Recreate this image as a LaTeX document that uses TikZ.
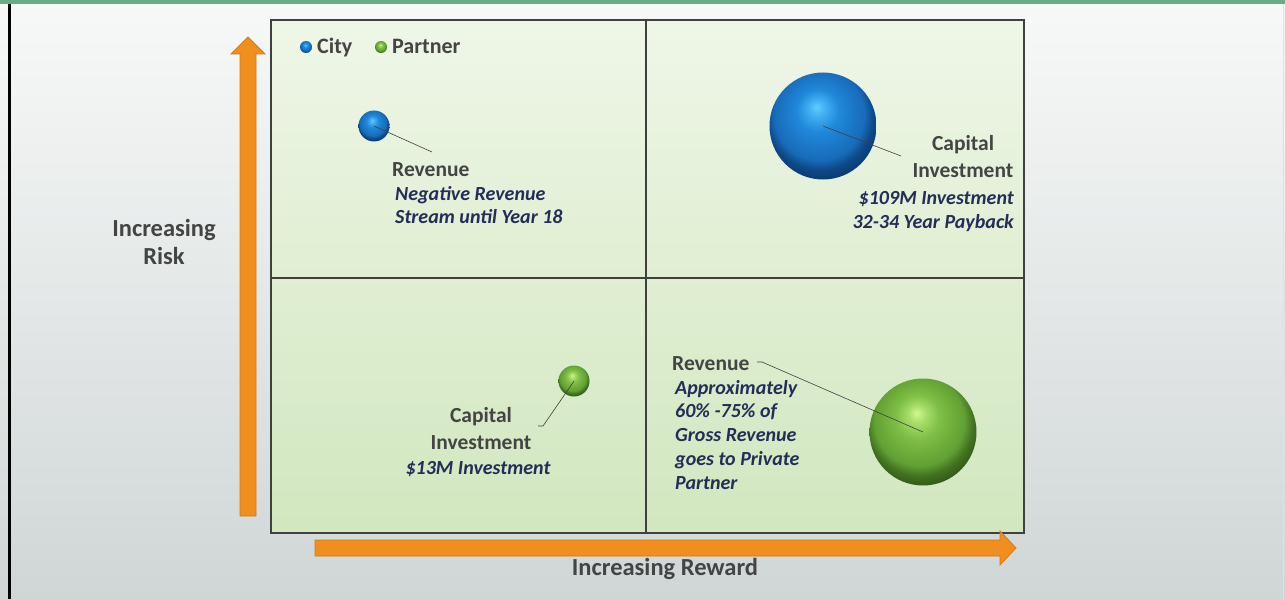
\documentclass[tikz,border=0pt]{standalone}
\usepackage{fontspec}
\setmainfont{Carlito}
\usepackage{tikz}

\definecolor{bgtop}{HTML}{F7F9F8}
\definecolor{bgbot}{HTML}{D0D6D6}
\definecolor{topgreen}{HTML}{6AAB85}
\definecolor{boxtop}{HTML}{EFF6E7}
\definecolor{boxmid}{HTML}{C9E0B1}
\definecolor{boxbot}{HTML}{D1E7BF}
\definecolor{boxline}{HTML}{404040}
\definecolor{arrowfill}{HTML}{F08E1E}
\definecolor{arrowedge}{HTML}{D27A18}
\definecolor{labelgray}{HTML}{444444}
\definecolor{notenavy}{HTML}{222E58}

% sphere shadings, highlight up and to the left
\pgfdeclareradialshading{cityball}{\pgfpoint{-3bp}{9bp}}{%
	color(0bp)=(rgb,255:red,96;green,204;blue,255);
	color(4bp)=(rgb,255:red,64;green,174;blue,242);
	color(10bp)=(rgb,255:red,32;green,136;blue,218);
	color(16bp)=(rgb,255:red,28;green,120;blue,200);
	color(21bp)=(rgb,255:red,24;green,108;blue,186);
	color(25bp)=(rgb,255:red,14;green,72;blue,136);
	color(30bp)=(rgb,255:red,10;green,56;blue,108);
	color(34bp)=(rgb,255:red,22;green,96;blue,170);
	color(50bp)=(rgb,255:red,22;green,96;blue,170)}
\pgfdeclareradialshading{partnerball}{\pgfpoint{-3bp}{9bp}}{%
	color(0bp)=(rgb,255:red,208;green,250;blue,144);
	color(4bp)=(rgb,255:red,168;green,222;blue,106);
	color(10bp)=(rgb,255:red,128;green,192;blue,72);
	color(16bp)=(rgb,255:red,110;green,174;blue,58);
	color(21bp)=(rgb,255:red,98;green,160;blue,52);
	color(25bp)=(rgb,255:red,66;green,114;blue,32);
	color(30bp)=(rgb,255:red,46;green,84;blue,22);
	color(34bp)=(rgb,255:red,92;green,150;blue,52);
	color(50bp)=(rgb,255:red,92;green,150;blue,52)}

\begin{document}
\begin{tikzpicture}[x=1pt, y=-1pt,
	title/.style={font=\bfseries\fontsize{21.5}{27}\selectfont, text=labelgray, inner sep=0pt},
	note/.style={font=\bfseries\itshape\fontsize{20}{23.7}\selectfont, text=notenavy, inner sep=0pt},
	axislbl/.style={font=\bfseries\fontsize{24.5}{28}\selectfont, text=labelgray, inner sep=0pt},
	keylbl/.style={font=\bfseries\fontsize{22}{26}\selectfont, text=labelgray, inner sep=0pt},
	citybubble/.style={circle, shade, shading=cityball, inner sep=0pt},
	partnerbubble/.style={circle, shade, shading=partnerball, inner sep=0pt},
	leader/.style={draw=black!75, line width=0.6pt},
	axisarrow/.style={fill=arrowfill, draw=arrowedge, line width=0.8pt}]
	\useasboundingbox (0,0) rectangle (1285,599);
	% backdrop
	\shade[top color=bgtop, bottom color=bgbot] (0,0) rectangle (1285,599);
	\fill[topgreen] (0,0) rectangle (1285,4);
	\fill[black] (8,4) rectangle (11,599);
	\draw[black!12, line width=1pt] (1283,4) -- (1283,599);
	% quadrants
	\shade[top color=boxtop, middle color=boxmid, bottom color=boxbot] (271,20) rectangle (1024,533);
	\draw[boxline, line width=1.5pt] (646,20) -- (646,533);
	\draw[boxline, line width=1.5pt] (271,278) -- (1024,278);
	\draw[boxline, line width=2pt] (271,20) rectangle (1024,533);
	% axis arrows
	\filldraw[axisarrow] (240,516) -- (240,54) -- (231,54) -- (248,37) -- (265,54) -- (256,54) -- (256,516) -- cycle;
	\filldraw[axisarrow] (315,540) -- (1000,540) -- (1000,531) -- (1016,548) -- (1000,565) -- (1000,556) -- (315,556) -- cycle;
	\node[axislbl, align=center, anchor=north] (risk) at (164,219) {Increasing\\Risk};
	\node[axislbl, anchor=base] (reward) at (665,575) {Increasing Reward};
	% legend
	\node[citybubble, minimum size=12] (citykey) at (306,47) {};
	\node[keylbl, anchor=base west] (citytxt) at (317,54) {City};
	\node[partnerbubble, minimum size=12] (partnerkey) at (381,47) {};
	\node[keylbl, anchor=base west] (partnertxt) at (392,54) {Partner};
	% bubbles
	\node[citybubble, minimum size=31] (cityrev) at (374,126) {};
	\node[citybubble, minimum size=107] (citycap) at (823,126) {};
	\node[partnerbubble, minimum size=31] (partnercap) at (574,381) {};
	\node[partnerbubble, minimum size=107] (partnerrev) at (923,432) {};
	% labels
	\node[title, anchor=base west] (cityrevT) at (392,176) {Revenue};
	\node[note, align=left, anchor=north west] (cityrevN) at (395,186) {Negative Revenue\\Stream until Year 18};
	\node[title, align=center, anchor=north] (citycapT) at (963,135) {Capital\\Investment};
	\node[note, align=right, anchor=north east] (citycapN) at (1014,191) {\$109M Investment\\32-34 Year Payback};
	\node[title, align=center, anchor=north] (partnercapT) at (481,407) {Capital\\Investment};
	\node[note, anchor=north] (partnercapN) at (478,461) {\$13M Investment};
	\node[title, anchor=base west] (partnerrevT) at (672,370) {Revenue};
	\node[note, align=left, anchor=north west] (partnerrevN) at (675,380) {Approximately\\60\% -75\% of\\Gross Revenue\\goes to Private\\Partner};
	% leaders
	\coordinate (cityrevend) at (432,152);
	\coordinate (citycapend) at (901,156);
	\coordinate (partnercapend) at (543,426);
	\coordinate (partnerrevend) at (762,362);
	\draw[leader] (cityrev.center) -- (cityrevend);
	\draw[leader] (citycap.center) -- (citycapend);
	\draw[leader] (partnercap.center) -- (partnercapend) -- ++(-5,0);
	\draw[leader] (partnerrev.center) -- (partnerrevend) -- ++(-5,0);
\end{tikzpicture}
\end{document}
